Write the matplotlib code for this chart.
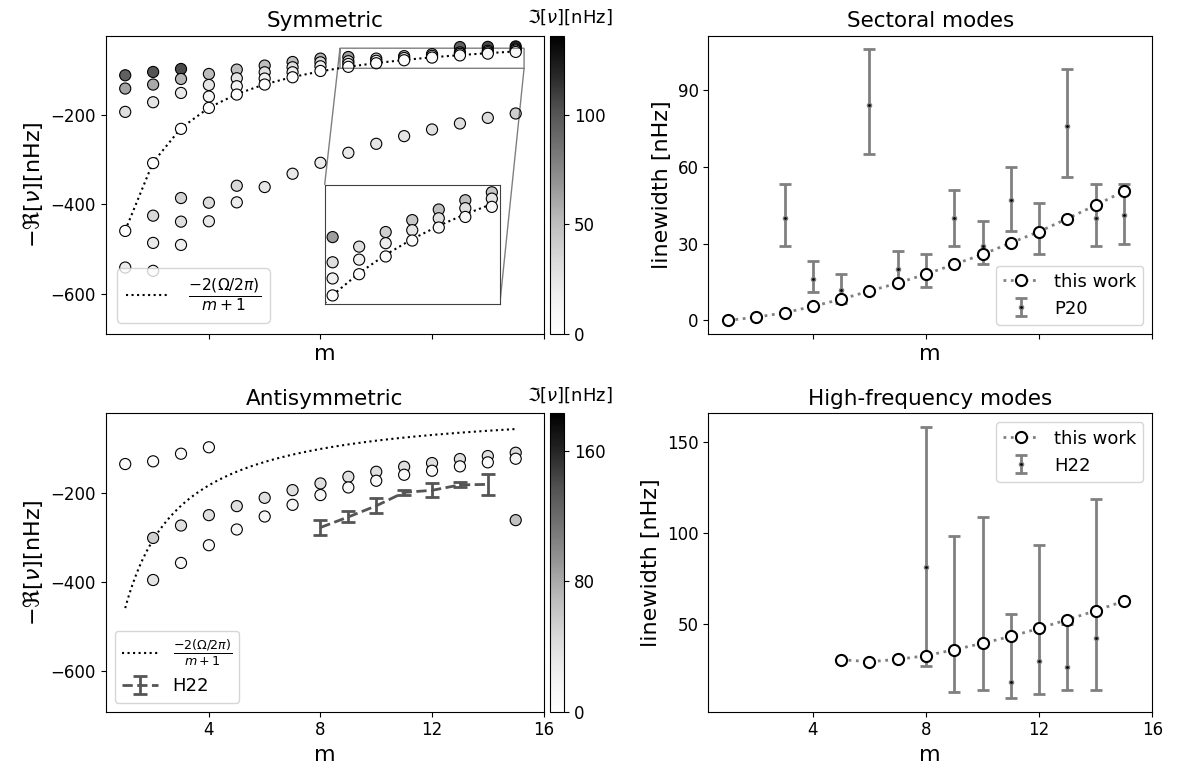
import numpy as np
import matplotlib.pyplot as plt
from matplotlib.colors import Normalize

# rotation rate used for the sectoral curve [nHz]
omega = 458.0

# symmetric modes: m, -Re[nu], Im[nu]
sym_m = [1, 1, 1, 1, 1,
         2, 2, 2, 2, 2, 2, 2,
         3, 3, 3, 3, 3, 3, 3,
         4, 4, 4, 4, 4, 4,
         5, 5, 5, 5, 5, 5,
         6, 6, 6, 6, 6,
         7, 7, 7, 7, 7,
         8, 8, 8, 8, 8,
         9, 9, 9, 9, 9,
         10, 10, 10, 10,
         11, 11, 11, 11,
         12, 12, 12, 12,
         13, 13, 13, 13, 13,
         14, 14, 14, 14, 14,
         15, 15, 15, 15, 15]
sym_re = [-110.6, -140.3, -192.6, -459.2, -541.2,
          -103.2, -131.4, -171.0, -307.3, -425.0, -486.0, -548.6,
          -96.5, -118.9, -150.2, -230.6, -385.5, -438.4, -490.5,
          -107.7, -132.3, -158.2, -183.7, -396.0, -437.6,
          -97.9, -117.3, -135.2, -153.8, -358.0, -395.2,
          -88.9, -103.9, -118.0, -131.4, -360.9,
          -80.9, -92.7, -103.9, -115.1, -331.1,
          -73.3, -81.6, -90.5, -101.0, -306.6,
          -69.7, -79.2, -85.3, -91.7, -284.2,
          -73.3, -78.2, -83.7, -264.1,
          -67.8, -72.0, -77.0, -246.9,
          -63.3, -67.1, -71.0, -232.0,
          -47.5, -59.3, -62.6, -66.1, -218.6,
          -47.0, -55.8, -58.8, -62.1, -206.0,
          -46.0, -52.8, -55.2, -58.3, -196.2]
sym_im = [95, 62, 30, 2, 20,
          100, 60, 25, 2, 35, 22, 15,
          105, 55, 22, 2, 38, 30, 18,
          52, 25, 12, 3, 32, 22,
          50, 25, 12, 3, 35, 20,
          50, 28, 15, 3, 25,
          50, 30, 18, 3, 22,
          55, 35, 18, 3, 20,
          65, 30, 18, 3, 22,
          30, 18, 5, 25,
          40, 20, 5, 25,
          45, 25, 5, 28,
          95, 50, 30, 8, 30,
          105, 50, 30, 8, 32,
          120, 45, 25, 8, 40]

# antisymmetric modes
anti_m = [1,
          2, 2, 2,
          3, 3, 3,
          4, 4, 4,
          5, 5, 6, 6, 7, 7, 8, 8, 9, 9, 10, 10,
          11, 11, 12, 12, 13, 13, 14, 14,
          15, 15, 15]
anti_re = [-135.6,
           -129.5, -301.0, -395.2,
           -112.5, -273.2, -357.0,
           -98.1, -250.0, -317.3,
           -229.8, -282.1, -211.2, -253.0, -194.0, -226.9, -179.0, -205.0,
           -164.1, -188.0, -152.9, -173.0,
           -141.7, -159.6, -133.4, -150.6, -124.4, -140.8, -117.7, -131.8,
           -110.3, -123.7, -261.2]
anti_im = [8,
           8, 55, 35,
           10, 40, 12,
           10, 40, 10,
           40, 12, 40, 12, 40, 12, 40, 10, 40, 10, 40, 10,
           40, 10, 40, 10, 40, 10, 40, 10,
           45, 12, 65]

# H22 antisymmetric frequencies
h22_m = [8, 9, 10, 11, 12, 13, 14]
h22_re = [-277.6, -254.0, -229.1, -199.0, -194.4, -182.3, -181.1]
h22_err = [16.5, 12.3, 17.2, 5.2, 16.0, 5.6, 23.2]

# sectoral linewidths
sec_m = [1, 2, 3, 4, 5, 6, 7, 8, 9, 10, 11, 12, 13, 14, 15]
sec_lw = [0.0, 1.3, 3.0, 5.5, 8.3, 11.5, 14.6, 18.1, 21.9, 25.8, 30.3, 34.7, 39.8, 45.0, 50.5]

p20_m = [3, 4, 5, 6, 7, 8, 9, 10, 11, 12, 13, 14, 15]
p20_lw = [40.0, 16.0, 12.0, 84.0, 20.1, 19.5, 40.0, 29.0, 47.0, 35.0, 75.9, 40.0, 41.1]
p20_lo = [29.0, 11.1, 7.0, 65.0, 14.0, 13.0, 29.0, 21.9, 35.1, 26.1, 56.0, 29.0, 30.0]
p20_hi = [53.1, 23.1, 18.0, 105.9, 27.0, 26.1, 51.0, 39.0, 60.1, 46.0, 98.1, 53.1, 53.1]

# high-frequency linewidths
hf_m = [5, 6, 7, 8, 9, 10, 11, 12, 13, 14, 15]
hf_lw = [30.4, 29.3, 30.6, 32.6, 35.9, 39.4, 43.2, 47.6, 52.4, 57.3, 62.6]

h22hf_m = [8, 9, 10, 11, 12, 13, 14]
h22hf_lw = [81.3, 36.0, 39.5, 18.1, 29.7, 26.4, 42.3]
h22hf_lo = [26.7, 12.6, 13.6, 9.3, 11.4, 13.9, 13.9]
h22hf_hi = [158.2, 98.2, 108.8, 55.5, 93.2, 50.0, 118.5]

W, H = 1190, 772


def rect(x0, y0, x1, y1):
    return [x0 / W, 1 - y1 / H, (x1 - x0) / W, (y1 - y0) / H]


plt.rcParams['font.size'] = 12

fig = plt.figure(figsize=(11.9, 7.72), dpi=100)
ax_sym = fig.add_axes(rect(105.7, 35.7, 543.6, 334))
cax_sym = fig.add_axes(rect(550, 35.7, 564, 334))
ax_anti = fig.add_axes(rect(105.7, 413.3, 543.6, 711.7))
cax_anti = fig.add_axes(rect(550, 413.3, 564, 711.7))
ax_sec = fig.add_axes(rect(708.3, 35.7, 1152.3, 334))
ax_hf = fig.add_axes(rect(708.3, 413.3, 1152.3, 711.7))

frac = r'$\frac{-2(\Omega/2\pi)}{m+1}$'
pt_size = 64
title_fs = 15.5
label_fs = 16

# ---- symmetric
norm_sym = Normalize(0, 136)
mm = np.arange(1, 16)
ax_sym.plot(mm, -2 * omega / (mm + 1), ':', color='k', lw=1.5, label=frac, zorder=1)
sc = ax_sym.scatter(sym_m, sym_re, c=sym_im, cmap='Greys', norm=norm_sym, s=pt_size,
                    edgecolors='k', linewidths=0.8, zorder=2)
ax_sym.set_xlim(0.3, 16)
ax_sym.set_ylim(-690, -22)
ax_sym.set_yticks([-600, -400, -200])
ax_sym.set_xticks([4, 8, 12, 16])
ax_sym.tick_params(labelbottom=False)
ax_sym.set_title('Symmetric', fontsize=title_fs)
ax_sym.set_xlabel('m', fontsize=label_fs)
ax_sym.set_ylabel(r'$-\Re[\nu]$[nHz]', fontsize=label_fs)
ax_sym.legend(loc='lower left', fontsize=16)

axins = ax_sym.inset_axes([0.5, 0.1, 0.4, 0.4])
axins.plot(mm, -2 * omega / (mm + 1), ':', color='k', lw=1.5, zorder=1)
axins.scatter(sym_m, sym_re, c=sym_im, cmap='Greys', norm=norm_sym, s=pt_size,
              edgecolors='k', linewidths=0.8, zorder=2)
axins.set_xlim(8.7, 15.3)
axins.set_ylim(-95, -50)
axins.set_xticks([])
axins.set_yticks([])
for sp in axins.spines.values():
    sp.set_edgecolor('0.25')
ind = ax_sym.indicate_inset_zoom(axins, edgecolor='black')
conns = ind.connectors
conns[0].set_visible(False)
conns[1].set_visible(True)
conns[2].set_visible(True)
conns[3].set_visible(False)

cb = fig.colorbar(sc, cax=cax_sym)
cb.set_ticks([0, 50, 100])
fig.text(570 / W, 1 - 17 / H, r'$\Im[\nu]$[nHz]', ha='center', va='center', fontsize=13)

# ---- antisymmetric
norm_anti = Normalize(0, 183)
mf = np.linspace(1, 15, 200)
ax_anti.plot(mf, -2 * omega / (mf + 1), ':', color='k', lw=1.5, label=frac, zorder=1)
sc2 = ax_anti.scatter(anti_m, anti_re, c=anti_im, cmap='Greys', norm=norm_anti, s=pt_size,
                      edgecolors='k', linewidths=0.8, zorder=2)
ax_anti.errorbar(h22_m, h22_re, yerr=h22_err, ls='--', color='#555555', lw=2,
                 capsize=5, capthick=2, label='H22', zorder=3)
ax_anti.set_xlim(0.3, 16)
ax_anti.set_ylim(-690, -22)
ax_anti.set_yticks([-600, -400, -200])
ax_anti.set_xticks([4, 8, 12, 16])
ax_anti.set_title('Antisymmetric', fontsize=title_fs)
ax_anti.set_xlabel('m', fontsize=label_fs)
ax_anti.set_ylabel(r'$-\Re[\nu]$[nHz]', fontsize=label_fs)
ax_anti.legend(loc='lower left', fontsize=13)

cb2 = fig.colorbar(sc2, cax=cax_anti)
cb2.set_ticks([0, 80, 160])
fig.text(570 / W, 1 - 395 / H, r'$\Im[\nu]$[nHz]', ha='center', va='center', fontsize=13)

# ---- sectoral linewidths
p20_err = [np.array(p20_lw) - np.array(p20_lo), np.array(p20_hi) - np.array(p20_lw)]
ax_sec.plot(sec_m, sec_lw, ':', color='gray', lw=2, marker='o', ms=8, mfc='white',
            mec='k', mew=1.5, label='this work', zorder=3)
ax_sec.errorbar(p20_m, p20_lw, yerr=p20_err, fmt='o', ms=3, mfc='k', mec='gray',
                ecolor='gray', elinewidth=2, capsize=4, capthick=2, label='P20', zorder=2)
ax_sec.set_xlim(0.3, 16)
ax_sec.set_xticks([4, 8, 12, 16])
ax_sec.tick_params(labelbottom=False)
ax_sec.set_yticks([0, 30, 60, 90])
ax_sec.set_title('Sectoral modes', fontsize=title_fs)
ax_sec.set_xlabel('m', fontsize=label_fs)
ax_sec.set_ylabel('linewidth [nHz]', fontsize=label_fs)
ax_sec.legend(loc='lower right', fontsize=13)

# ---- high-frequency linewidths
hf_err = [np.array(h22hf_lw) - np.array(h22hf_lo), np.array(h22hf_hi) - np.array(h22hf_lw)]
ax_hf.plot(hf_m, hf_lw, ':', color='gray', lw=2, marker='o', ms=8, mfc='white',
           mec='k', mew=1.5, label='this work', zorder=3)
ax_hf.errorbar(h22hf_m, h22hf_lw, yerr=hf_err, fmt='o', ms=3, mfc='k', mec='gray',
               ecolor='gray', elinewidth=2, capsize=4, capthick=2, label='H22', zorder=2)
ax_hf.set_xlim(0.3, 16)
ax_hf.set_xticks([4, 8, 12, 16])
ax_hf.set_yticks([50, 100, 150])
ax_hf.set_title('High-frequency modes', fontsize=title_fs)
ax_hf.set_xlabel('m', fontsize=label_fs)
ax_hf.set_ylabel('linewidth [nHz]', fontsize=label_fs)
ax_hf.legend(loc='upper right', fontsize=13)

fig.savefig('out.png', dpi=100)
